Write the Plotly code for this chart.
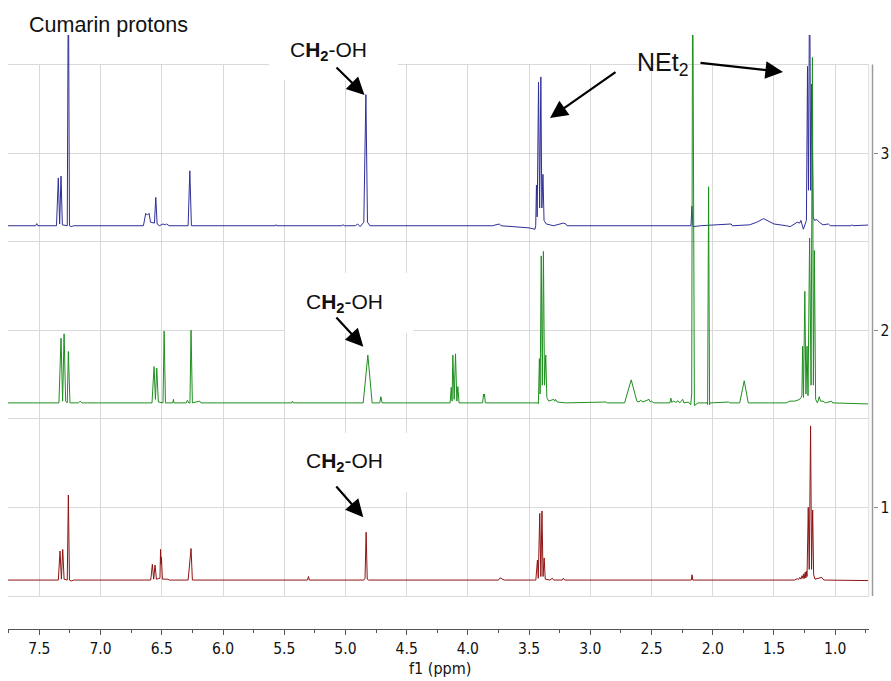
import plotly.graph_objects as go

# ---------------- data (ppm, relative intensity above each trace's baseline) ----------------
BLUE_PPM = [7.756, 7.53, 7.521, 7.512, 7.36, 7.345, 7.334, 7.323, 7.312, 7.272, 7.263, 7.254, 7.24, 7.22,
            6.65, 6.631, 6.617, 6.604, 6.592, 6.56, 6.549, 6.538, 6.52, 6.49, 6.47, 6.46, 6.44,
            6.285, 6.271, 6.258, 5.57, 5.566, 5.56, 5.03, 5.02, 5.01, 4.92, 4.90, 4.88, 4.85, 4.833, 4.82, 4.80,
            3.80, 3.742, 3.73, 3.50, 3.452, 3.446, 3.440, 3.434, 3.423, 3.414, 3.404, 3.396, 3.387, 3.378,
            3.36, 3.30, 3.22, 3.20, 3.19, 2.178, 2.170, 2.162, 2.10, 1.85, 1.84, 1.70, 1.64, 1.585, 1.53,
            1.50, 1.40, 1.367, 1.31, 1.29, 1.28, 1.27, 1.26, 1.235, 1.226, 1.218, 1.209, 1.200, 1.191,
            1.18, 1.17, 1.15, 1.13, 1.10, 1.056, 1.04, 0.87, 0.863, 0.855, 0.728]
BLUE_INT = [0, 0, 0.012, 0, 0, 0.27, 0.01, 0.28, 0.005, 0, 1.5, 0, -0.005, 0,
            0, 0.07, 0.06, 0.07, 0.02, 0.015, 0.16, 0.01, 0, 0.01, 0.005, 0.01, 0,
            0, 0.31, 0, 0, 0.006, 0, 0, 0.006, 0, 0, 0.01, -0.005, 0.02, 0.74, 0.02, 0,
            0, 0.01, 0, -0.012, -0.02, 0, 0.23, 0.05, 0.81, 0.1, 0.84, 0.1, 0.29, 0.03,
            0.01, 0, 0.015, 0.01, 0, 0, 0.11, -0.005, 0, 0.01, 0, 0.005, 0.02, 0.04, 0.02,
            0.01, 0, -0.005, 0.02, 0.015, 0.03, 0.01, -0.02, 0.03, 0.90, 0.2, 1.5, 0.2, 0.8,
            0.05, 0.03, 0.035, 0.02, 0.005, 0.01, 0, 0, 0.006, 0, 0.004]

GREEN_PPM = [7.756, 7.34, 7.323, 7.31, 7.298, 7.285, 7.272, 7.263, 7.25, 7.18, 7.167, 7.15,
             6.58, 6.563, 6.552, 6.541, 6.528, 6.49, 6.481, 6.47, 6.41, 6.405, 6.40, 6.30, 6.291, 6.28,
             6.27, 6.261, 6.25, 6.19, 6.18, 5.44, 5.433, 5.425, 4.855, 4.817, 4.782, 4.72, 4.711, 4.70,
             4.145, 4.136, 4.129, 4.123, 4.112, 4.101, 4.09, 4.082, 4.072, 3.88, 3.872, 3.868, 3.864, 3.858,
             3.43, 3.424, 3.416, 3.410, 3.401, 3.392, 3.383, 3.374, 3.364, 3.355, 3.34, 3.30, 3.29, 3.285,
             3.27, 3.20, 2.873, 2.86, 2.72, 2.666, 2.62, 2.60, 2.59, 2.57, 2.52, 2.51, 2.50, 2.48,
             2.35, 2.342, 2.335, 2.32, 2.30, 2.284, 2.27, 2.245, 2.235, 2.20, 2.18, 2.172, 2.164, 2.156,
             2.15, 2.12, 2.045, 2.042, 2.034, 2.026, 2.02, 1.871, 1.86, 1.78, 1.743, 1.71,
             1.40, 1.37, 1.33, 1.31, 1.29, 1.28, 1.272, 1.266, 1.259, 1.248, 1.239, 1.230, 1.222,
             1.209, 1.197, 1.186, 1.178, 1.170, 1.16, 1.145, 1.13, 1.12, 1.10, 1.08, 1.03, 1.02, 0.728]
GREEN_INT = [0, 0, 0.365, 0.01, 0.39, 0.01, 0, 0.29, 0, 0, 0.01, 0,
             0, 0.205, 0.02, 0.196, 0.005, 0, 0.405, 0, 0, 0.02, 0, 0, 0.015, 0,
             0, 0.41, 0, 0.01, 0, 0, 0.01, 0, 0, 0.27, 0, 0, 0.035, 0,
             0, 0.087, 0.01, 0.27, 0.02, 0.277, 0.01, 0.092, 0, 0, 0.05, 0.035, 0.05, 0,
             0, -0.005, 0.25, 0.05, 0.83, 0.1, 0.855, 0.1, 0.27, 0.03, 0.01, 0.02, 0.01, 0.02,
             0.005, 0, 0.005, 0, 0, 0.13, 0.01, 0.005, 0.015, 0.005, 0.02, 0.005, 0.01, 0,
             0, 0.027, 0.003, 0.01, 0.003, 0.012, 0, 0.02, 0, 0.005, -0.01, 0.05, 2.6, 0.03,
             -0.015, 0, 0, -0.01, 1.22, -0.01, 0, 0.005, 0, 0, 0.125, 0,
             0, 0.01, 0.01, 0.015, 0.02, 0.03, 0.04, 0.32, 0.03, 0.63, 0.05, 0.32, 0.04,
             0.93, 0.1, 1.95, 0.1, 0.86, 0.02, 0, 0.035, 0.01, 0.01, 0, 0.01, 0, -0.006]

RED_PPM = [7.756, 7.345, 7.331, 7.32, 7.309, 7.298, 7.272, 7.263, 7.254, 7.24, 7.22,
           6.59, 6.577, 6.566, 6.555, 6.544, 6.515, 6.510, 6.506, 6.503, 6.495, 6.45, 6.44,
           6.285, 6.261, 6.25, 5.31, 5.302, 5.295, 4.85, 4.84, 4.831, 4.822, 4.81,
           3.75, 3.74, 3.73, 3.72, 3.70, 3.445, 3.432, 3.425, 3.413, 3.404, 3.395, 3.386, 3.377, 3.368,
           3.33, 3.31, 3.30, 3.23, 3.22, 3.21, 2.175, 2.169, 2.163,
           1.33, 1.31, 1.30, 1.29, 1.28, 1.27, 1.262, 1.256, 1.250, 1.245, 1.240, 1.235, 1.230,
           1.220, 1.212, 1.201, 1.193, 1.184,
           1.176, 1.165, 1.12, 1.11, 1.10, 1.09, 0.728]
RED_INT = [0, 0, 0.164, 0.005, 0.173, 0.005, 0, 0.48, 0, -0.005, 0,
           0, 0.089, 0.005, 0.085, 0.005, 0.01, 0.173, 0.09, 0.13, 0.005, 0.005, 0,
           0, 0.178, 0, 0, 0.02, 0, 0, 0.01, 0.27, 0.005, 0,
           0, 0.01, 0.012, 0.005, 0, 0, 0.113, 0.01, 0.376, 0.02, 0.39, 0.02, 0.125, 0.005,
           0, 0.01, 0, 0, 0.01, 0, 0, 0.03, 0,
           0, 0.008, 0.002, 0.015, 0.005, 0.025, 0.008, 0.035, 0.01, 0.045, 0.012, 0.05, 0.02,
           0.41, 0.06, 0.87, 0.06, 0.395,
           0.03, 0.005, 0.01, 0.015, 0.005, 0, -0.003]

# stacking offsets of the three spectra (baseline positions)
OFFSETS = {"red": 0.59, "green": 1.59, "blue": 2.59}
COLORS = {"red": "#8e1414", "green": "#1f8f1f", "blue": "#2e2e98"}

Y_TICKS = [1, 2, 3]
Y_HALF_GRID = [0.5, 1.5, 2.5, 3.5]

# ---------------- geometry ----------------
W, H = 891, 681
X_RANGE = [7.756, 0.728]
X0_PX, X1_PX = 8.0, 868.5      # plot area left/right (px)
Y_TOP_PX, Y_BOT_PX = 35.0, 598.0
PX_PER_UNIT = 177.0
Y_RANGE = [0.5 - (Y_BOT_PX - 596.0) / PX_PER_UNIT, 3.5 + (64.5 - Y_TOP_PX) / PX_PER_UNIT]


def px_x(px):
    return X_RANGE[0] + (px - X0_PX) * (X_RANGE[1] - X_RANGE[0]) / (X1_PX - X0_PX)


def px_y(py):
    return Y_RANGE[0] + (Y_BOT_PX - py) * (Y_RANGE[1] - Y_RANGE[0]) / (Y_BOT_PX - Y_TOP_PX)


def fx(px):
    return px / W


def fy(py):
    return 1 - py / H


fig = go.Figure()
for key, xs, ys in [("red", RED_PPM, RED_INT), ("blue", BLUE_PPM, BLUE_INT), ("green", GREEN_PPM, GREEN_INT)]:
    fig.add_trace(go.Scatter(x=xs, y=[OFFSETS[key] + v for v in ys], mode="lines",
                             line=dict(color=COLORS[key], width=1), hoverinfo="skip", showlegend=False))

GRID = "#d9d9d9"
TICKFONT = dict(family="Tahoma, 'DejaVu Sans Condensed', 'DejaVu Sans', sans-serif", size=15.5, color="#111111")
fig.update_layout(
    width=W, height=H, margin=dict(l=0, r=0, t=0, b=0),
    paper_bgcolor="white", plot_bgcolor="white", showlegend=False,
    xaxis=dict(domain=[fx(X0_PX), fx(X1_PX)], range=X_RANGE, anchor="free", position=fy(629.3),
               showline=True, linecolor="#555555", linewidth=1,
               ticks="outside", ticklen=5, tickcolor="#555555", tick0=0, dtick=0.5, tickformat=".1f",
               tickfont=TICKFONT, showgrid=True, gridcolor=GRID, gridwidth=1, zeroline=False,
               minor=dict(tick0=0, dtick=0.25, ticks="outside", ticklen=3, tickcolor="#555555", showgrid=False)),
    yaxis=dict(domain=[fy(Y_BOT_PX), fy(Y_TOP_PX)], range=Y_RANGE, side="right", anchor="free",
               position=fx(872.5), showline=False, ticks="outside", ticklen=4, tickcolor="#888888",
               tickmode="array", tickvals=Y_TICKS, ticktext=[str(v) for v in Y_TICKS], tickfont=TICKFONT,
               showgrid=True, gridcolor=GRID, gridwidth=1, zeroline=False,
               minor=dict(tickmode="array", tickvals=Y_HALF_GRID, showgrid=True, gridcolor=GRID,
                          gridwidth=1, ticks="")),
)

# white masks (between grid and traces)
masks = [
    (X0_PX, X1_PX, Y_TOP_PX - 5, 64.0),   # area above the grid
    (X0_PX, X1_PX, 597.0, Y_BOT_PX + 5),  # area below the grid
    (269, 398, Y_TOP_PX - 5, 80),        # top label box
    (285, 413, 273, 333),                 # middle label box
    (290, 443, 433, 492),                 # bottom label box
]
for x0, x1, y0, y1 in masks:
    fig.add_shape(type="rect", xref="x", yref="y", x0=px_x(x0), x1=px_x(x1), y0=px_y(y1), y1=px_y(y0),
                  fillcolor="white", line=dict(width=0), layer="between")

# right frame lines
fig.add_shape(type="line", xref="paper", yref="y", x0=fx(868.8), x1=fx(868.8), y0=0.5, y1=3.5,
              line=dict(color=GRID, width=1), layer="above")
fig.add_shape(type="line", xref="paper", yref="y", x0=fx(872.5), x1=fx(872.5), y0=0.5, y1=3.5,
              line=dict(color="#9a9a9a", width=1.5), layer="above")

AFONT = "Arial, 'Liberation Sans', sans-serif"
# texts
fig.add_annotation(text="Cumarin protons", xref="paper", yref="paper", x=fx(27), y=fy(25),
                   xanchor="left", yanchor="middle", showarrow=False, font=dict(family=AFONT, size=21.5, color="#111"))
CH2OH = "C<b>H<sub>2</sub></b>-OH"
for cx, cy in [(328, 51), (344.5, 303), (344.5, 462)]:
    fig.add_annotation(text=CH2OH, xref="paper", yref="paper", x=fx(cx), y=fy(cy),
                       xanchor="center", yanchor="middle", showarrow=False,
                       font=dict(family=AFONT, size=21, color="#111"))
fig.add_annotation(text="NEt<sub>2</sub>", xref="paper", yref="paper", x=fx(662), y=fy(64),
                   xanchor="center", yanchor="middle", showarrow=False,
                   font=dict(family=AFONT, size=25, color="#111"))

# arrows: (tip_x, tip_y, tail_x, tail_y) in px
ARROWS = [(364.5, 95, 335, 66), (363.3, 346.7, 335, 316), (363.3, 517.3, 335, 485),
          (550, 118, 617, 71), (783, 72, 699, 62.7)]
for tx, ty, sx, sy in ARROWS:
    fig.add_annotation(text="", xref="paper", yref="paper", x=fx(tx), y=fy(ty),
                       ax=sx - tx, ay=sy - ty, showarrow=True, arrowhead=2, arrowsize=1.6,
                       arrowwidth=2.2, arrowcolor="black", standoff=0)

# axis title
fig.add_annotation(text="f1 (ppm)", xref="paper", yref="paper", x=fx(440), y=fy(668.5),
                   xanchor="center", yanchor="middle", showarrow=False,
                   font=dict(family=TICKFONT["family"], size=16, color="#111111"))

fig.write_html("out.html")
